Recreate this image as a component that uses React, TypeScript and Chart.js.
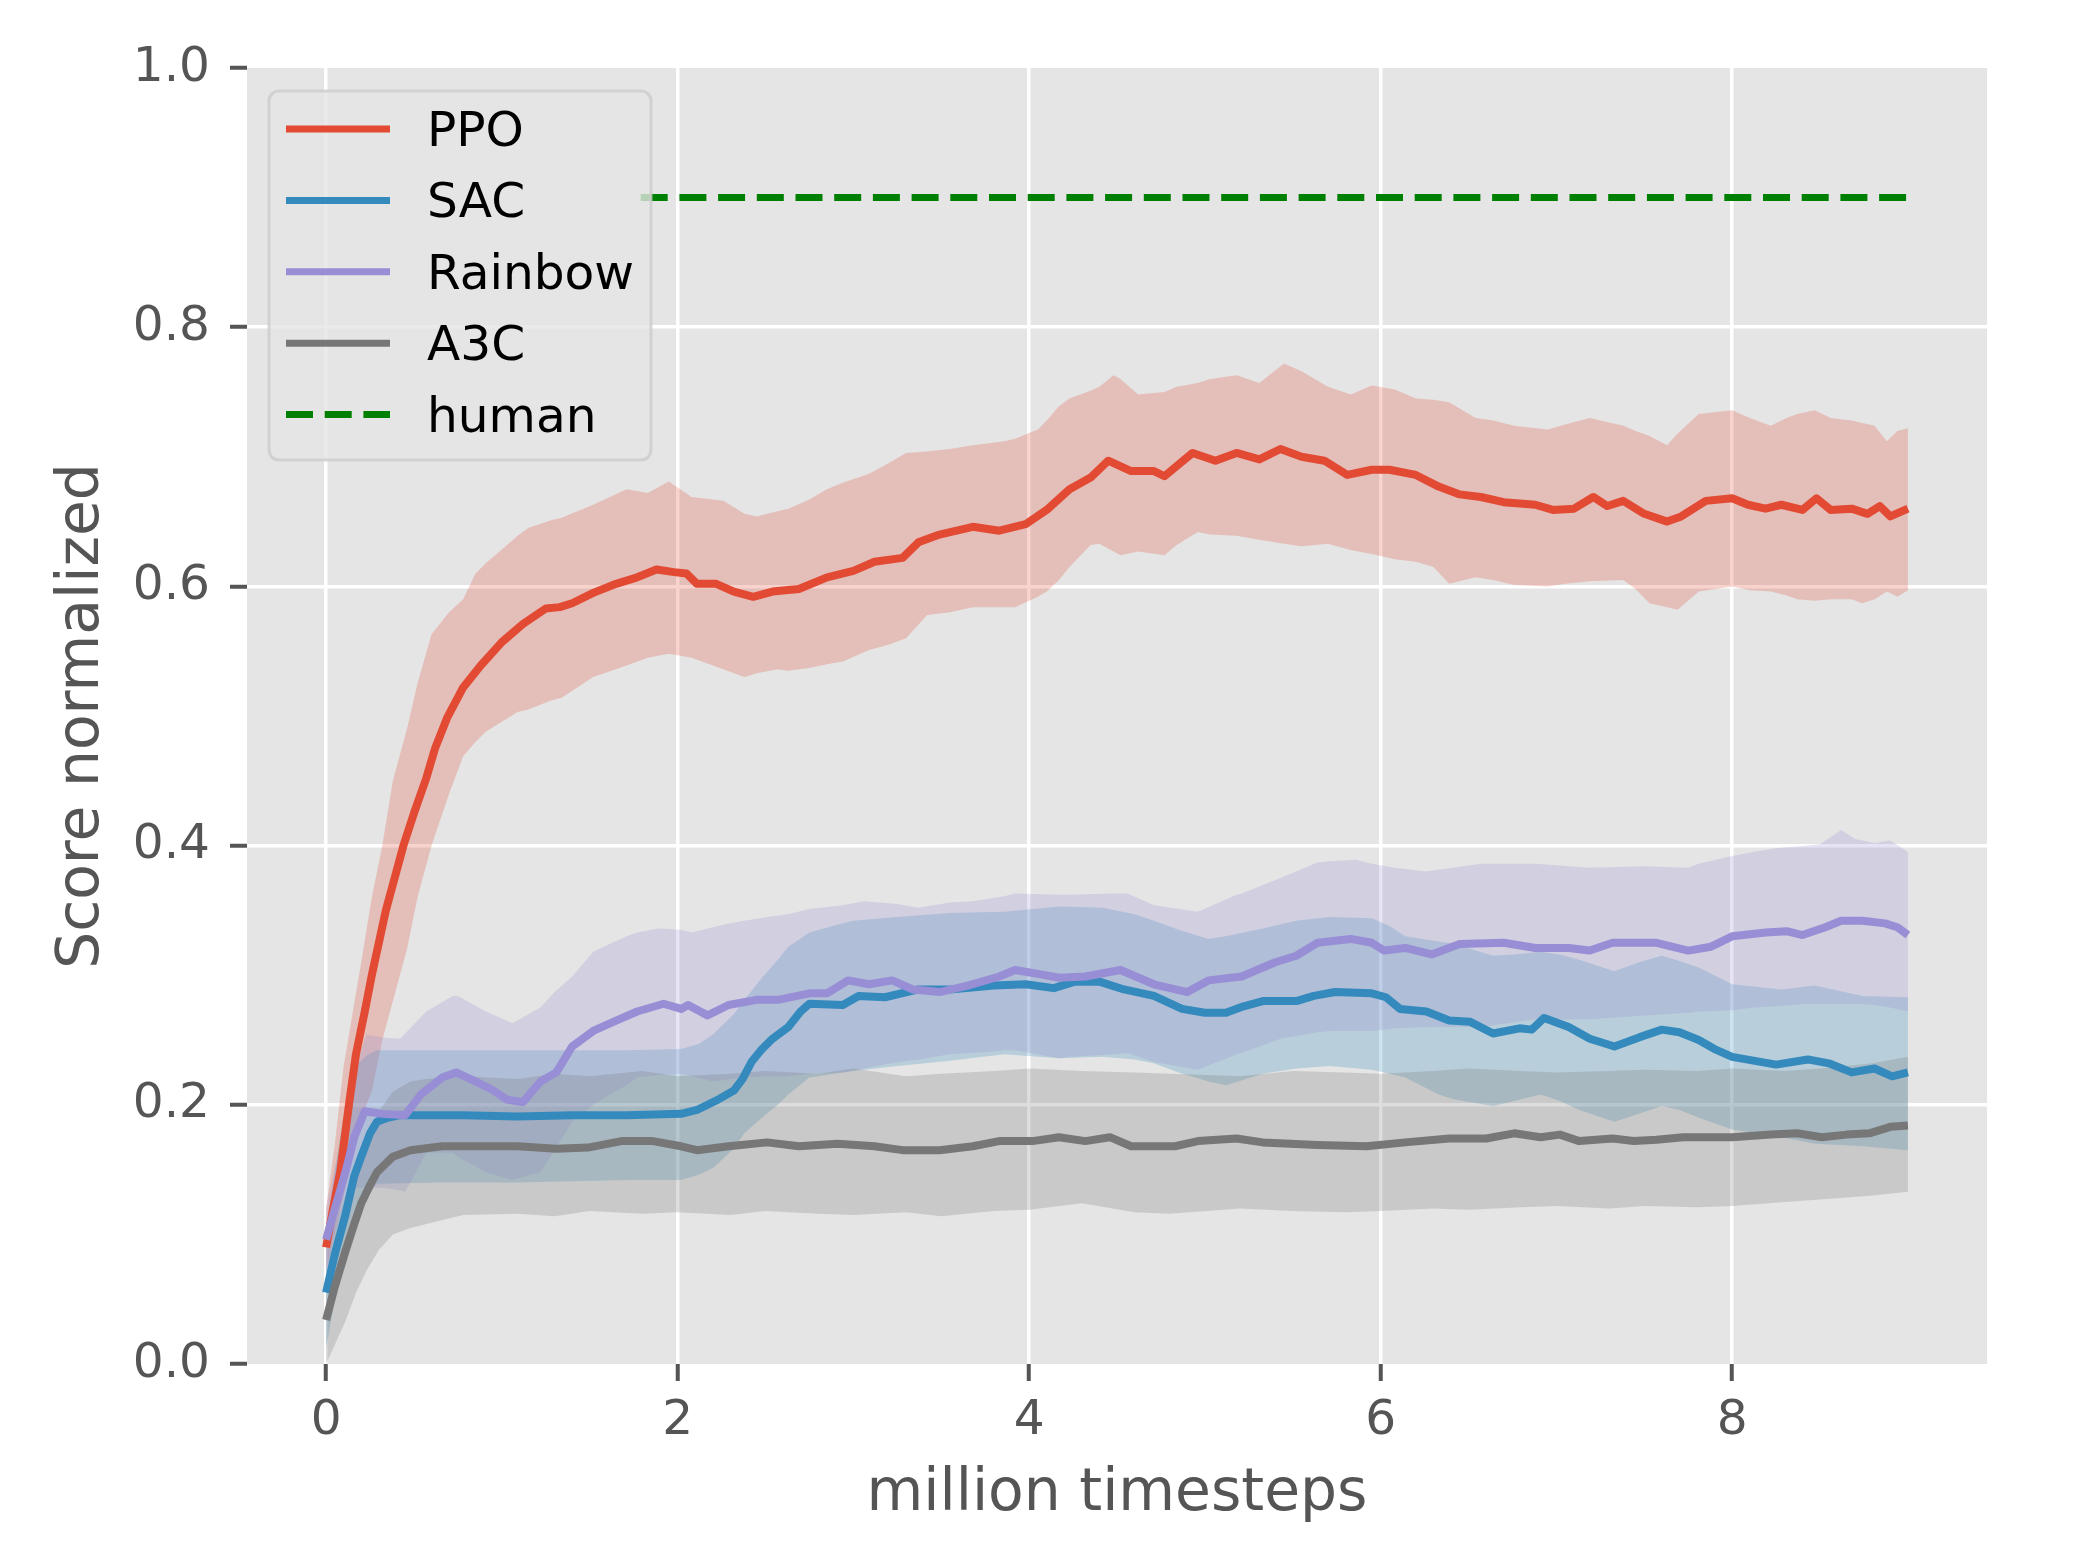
import { useEffect, useRef } from 'react'
import Chart from 'chart.js/auto'

// axis ticks and labels
const xTicks = [0, 2, 4, 6, 8]
const yTicks = [0, 0.2, 0.4, 0.6, 0.8, 1.0]
const seriesNames = ['PPO', 'SAC', 'Rainbow', 'A3C']
const humanLabel = 'human'
const humanLevel = 0.9
const humanStart = 1.79
const humanEnd = 9

// [million timesteps, mean score]
const ppoMean: [number, number][] = [
  [0, 0.09], [0.04, 0.12], [0.08, 0.148], [0.13, 0.2], [0.17, 0.239], [0.22, 0.272], [0.26, 0.3],
  [0.3, 0.325], [0.34, 0.35], [0.38, 0.37], [0.44, 0.4], [0.5, 0.425], [0.57, 0.452], [0.62, 0.475],
  [0.69, 0.499], [0.78, 0.522], [0.88, 0.539], [1.0, 0.557], [1.12, 0.571], [1.25, 0.583], [1.33, 0.584],
  [1.4, 0.587], [1.52, 0.595], [1.65, 0.602], [1.77, 0.607], [1.88, 0.613], [1.98, 0.611], [2.05, 0.61],
  [2.11, 0.602], [2.22, 0.602], [2.32, 0.596], [2.43, 0.592], [2.54, 0.596], [2.69, 0.598], [2.85, 0.607],
  [3.0, 0.612], [3.12, 0.619], [3.28, 0.622], [3.37, 0.634], [3.49, 0.64], [3.68, 0.646], [3.83, 0.643],
  [3.98, 0.648], [4.1, 0.659], [4.23, 0.675], [4.35, 0.684], [4.45, 0.697], [4.58, 0.689], [4.71, 0.689],
  [4.77, 0.685], [4.93, 0.703], [5.06, 0.697], [5.18, 0.703], [5.31, 0.698], [5.43, 0.706], [5.55, 0.7],
  [5.68, 0.697], [5.81, 0.686], [5.95, 0.69], [6.05, 0.69], [6.2, 0.686], [6.33, 0.677], [6.45, 0.671],
  [6.57, 0.669], [6.7, 0.665], [6.88, 0.663], [6.98, 0.659], [7.1, 0.66], [7.21, 0.669], [7.29, 0.662],
  [7.38, 0.666], [7.5, 0.656], [7.63, 0.65], [7.71, 0.654], [7.85, 0.666], [8.0, 0.668], [8.09, 0.663],
  [8.19, 0.66], [8.28, 0.663], [8.4, 0.659], [8.48, 0.668], [8.56, 0.659], [8.68, 0.66], [8.77, 0.656],
  [8.84, 0.662], [8.9, 0.654], [9.0, 0.66],
]

// [million timesteps, lower, upper]
const ppoBand: [number, number, number][] = [
  [0, 0.07, 0.12], [0.05, 0.1, 0.17], [0.1, 0.13, 0.23], [0.15, 0.16, 0.27], [0.2, 0.19, 0.31],
  [0.26, 0.21, 0.36], [0.32, 0.25, 0.4], [0.38, 0.28, 0.45], [0.46, 0.32, 0.49], [0.52, 0.36, 0.525],
  [0.6, 0.4, 0.563], [0.7, 0.44, 0.58], [0.78, 0.469, 0.59], [0.85, 0.48, 0.61], [0.91, 0.488, 0.618],
  [0.97, 0.493, 0.625], [1.09, 0.503, 0.639], [1.15, 0.505, 0.645], [1.28, 0.512, 0.651], [1.34, 0.514, 0.653],
  [1.52, 0.53, 0.663], [1.71, 0.539, 0.675], [1.83, 0.545, 0.672], [1.95, 0.548, 0.681], [2.08, 0.545, 0.669],
  [2.26, 0.536, 0.666], [2.38, 0.53, 0.656], [2.45, 0.533, 0.654], [2.57, 0.536, 0.658], [2.63, 0.535, 0.66],
  [2.75, 0.537, 0.667], [2.85, 0.54, 0.675], [2.94, 0.542, 0.68], [3.09, 0.551, 0.687], [3.2, 0.555, 0.695],
  [3.3, 0.56, 0.703], [3.42, 0.578, 0.704], [3.55, 0.58, 0.706], [3.68, 0.584, 0.709], [3.86, 0.584, 0.712],
  [3.92, 0.584, 0.714], [4.05, 0.592, 0.721], [4.1, 0.596, 0.728], [4.17, 0.605, 0.739], [4.23, 0.615, 0.745],
  [4.35, 0.632, 0.751], [4.4, 0.633, 0.754], [4.48, 0.627, 0.763], [4.52, 0.624, 0.76], [4.62, 0.627, 0.748],
  [4.77, 0.624, 0.75], [4.84, 0.632, 0.754], [4.96, 0.642, 0.757], [5.03, 0.64, 0.76], [5.18, 0.639, 0.763],
  [5.31, 0.636, 0.757], [5.45, 0.633, 0.772], [5.55, 0.631, 0.766], [5.7, 0.633, 0.754], [5.83, 0.628, 0.748],
  [5.95, 0.625, 0.755], [6.08, 0.621, 0.752], [6.2, 0.619, 0.745], [6.3, 0.615, 0.744], [6.39, 0.602, 0.742],
  [6.54, 0.607, 0.73], [6.64, 0.605, 0.728], [6.76, 0.601, 0.724], [6.95, 0.6, 0.721], [7.05, 0.602, 0.725],
  [7.19, 0.604, 0.73], [7.38, 0.605, 0.724], [7.45, 0.598, 0.72], [7.53, 0.587, 0.716], [7.63, 0.584, 0.709],
  [7.69, 0.582, 0.718], [7.81, 0.596, 0.733], [8.0, 0.6, 0.736], [8.1, 0.597, 0.73], [8.22, 0.596, 0.724],
  [8.31, 0.593, 0.73], [8.37, 0.59, 0.733], [8.47, 0.589, 0.736], [8.56, 0.59, 0.73], [8.68, 0.59, 0.728],
  [8.74, 0.587, 0.726], [8.81, 0.59, 0.724], [8.88, 0.596, 0.712], [8.94, 0.592, 0.72], [9.0, 0.597, 0.722],
]

const sacMean: [number, number][] = [
  [0, 0.055], [0.05, 0.085], [0.11, 0.115], [0.16, 0.145], [0.2, 0.16], [0.25, 0.178], [0.29, 0.187],
  [0.35, 0.19], [0.42, 0.192], [0.78, 0.192], [1.09, 0.191], [1.4, 0.192], [1.71, 0.192], [2.02, 0.193],
  [2.11, 0.196], [2.23, 0.204], [2.32, 0.211], [2.37, 0.22], [2.42, 0.233], [2.48, 0.243], [2.54, 0.251],
  [2.63, 0.26], [2.7, 0.272], [2.75, 0.278], [2.94, 0.277], [3.03, 0.284], [3.18, 0.283], [3.37, 0.289],
  [3.55, 0.289], [3.8, 0.292], [3.98, 0.293], [4.14, 0.29], [4.26, 0.295], [4.4, 0.295], [4.54, 0.289],
  [4.71, 0.284], [4.87, 0.274], [5.0, 0.271], [5.12, 0.271], [5.22, 0.276], [5.33, 0.28], [5.52, 0.28],
  [5.62, 0.284], [5.74, 0.287], [5.95, 0.286], [6.03, 0.283], [6.11, 0.274], [6.26, 0.272], [6.39, 0.265],
  [6.51, 0.264], [6.64, 0.255], [6.79, 0.259], [6.86, 0.258], [6.93, 0.267], [7.07, 0.26], [7.19, 0.251],
  [7.33, 0.245], [7.47, 0.252], [7.6, 0.258], [7.7, 0.256], [7.81, 0.25], [7.9, 0.243], [8.0, 0.237],
  [8.25, 0.231], [8.43, 0.235], [8.55, 0.232], [8.68, 0.225], [8.81, 0.228], [8.91, 0.222], [9.0, 0.225],
]

const sacBand: [number, number, number][] = [
  [0, 0.012, 0.1], [0.05, 0.05, 0.15], [0.11, 0.087, 0.2], [0.17, 0.115, 0.23], [0.23, 0.13, 0.238],
  [0.29, 0.139, 0.242], [0.63, 0.14, 0.242], [1.09, 0.14, 0.242], [1.71, 0.142, 0.242], [2.02, 0.142, 0.243],
  [2.12, 0.146, 0.247], [2.2, 0.151, 0.254], [2.32, 0.166, 0.27], [2.38, 0.178, 0.281], [2.48, 0.19, 0.298],
  [2.57, 0.2, 0.312], [2.63, 0.208, 0.322], [2.75, 0.221, 0.333], [2.94, 0.225, 0.34], [3.0, 0.226, 0.342],
  [3.25, 0.23, 0.345], [3.55, 0.234, 0.348], [3.86, 0.239, 0.349], [4.17, 0.236, 0.353], [4.42, 0.237, 0.352],
  [4.6, 0.235, 0.347], [4.71, 0.232, 0.342], [4.85, 0.225, 0.335], [5.02, 0.218, 0.328], [5.12, 0.215, 0.33],
  [5.33, 0.224, 0.336], [5.52, 0.228, 0.342], [5.71, 0.23, 0.345], [5.95, 0.227, 0.344], [6.05, 0.224, 0.338],
  [6.14, 0.221, 0.33], [6.33, 0.208, 0.326], [6.42, 0.204, 0.324], [6.64, 0.199, 0.315], [6.76, 0.203, 0.316],
  [6.91, 0.208, 0.318], [7.02, 0.203, 0.316], [7.13, 0.196, 0.312], [7.33, 0.187, 0.303], [7.47, 0.193, 0.31],
  [7.6, 0.199, 0.315], [7.7, 0.196, 0.311], [7.81, 0.19, 0.306], [8.0, 0.181, 0.293], [8.28, 0.175, 0.289],
  [8.47, 0.17, 0.292], [8.74, 0.168, 0.284], [9.0, 0.165, 0.283],
]

const rainbowMean: [number, number][] = [
  [0, 0.096], [0.05, 0.12], [0.11, 0.148], [0.16, 0.175], [0.22, 0.195], [0.32, 0.193], [0.45, 0.192],
  [0.54, 0.208], [0.66, 0.221], [0.74, 0.225], [0.85, 0.218], [0.94, 0.212], [1.03, 0.204], [1.12, 0.202],
  [1.22, 0.218], [1.31, 0.225], [1.4, 0.245], [1.52, 0.257], [1.65, 0.265], [1.77, 0.272], [1.92, 0.278],
  [2.02, 0.274], [2.06, 0.277], [2.17, 0.269], [2.29, 0.277], [2.45, 0.281], [2.57, 0.281], [2.75, 0.286],
  [2.85, 0.286], [2.97, 0.296], [3.09, 0.293], [3.22, 0.296], [3.34, 0.289], [3.49, 0.287], [3.65, 0.292],
  [3.83, 0.299], [3.92, 0.304], [4.05, 0.301], [4.17, 0.298], [4.32, 0.299], [4.52, 0.304], [4.71, 0.293],
  [4.9, 0.287], [5.02, 0.296], [5.21, 0.299], [5.4, 0.31], [5.52, 0.315], [5.64, 0.325], [5.83, 0.328],
  [5.95, 0.325], [6.02, 0.319], [6.14, 0.321], [6.29, 0.316], [6.45, 0.324], [6.7, 0.325], [6.88, 0.321],
  [7.07, 0.321], [7.19, 0.319], [7.32, 0.325], [7.57, 0.325], [7.75, 0.319], [7.88, 0.322], [8.0, 0.33],
  [8.19, 0.333], [8.31, 0.334], [8.4, 0.331], [8.53, 0.337], [8.62, 0.342], [8.74, 0.342], [8.87, 0.34],
  [8.94, 0.337], [9.0, 0.331],
]

const rainbowBand: [number, number, number][] = [
  [0, 0.07, 0.12], [0.05, 0.1, 0.15], [0.11, 0.125, 0.178], [0.17, 0.136, 0.23], [0.23, 0.136, 0.254],
  [0.32, 0.136, 0.252], [0.42, 0.134, 0.251], [0.45, 0.133, 0.255], [0.52, 0.15, 0.265], [0.57, 0.163, 0.272],
  [0.72, 0.163, 0.284], [0.75, 0.16, 0.284], [0.91, 0.148, 0.272], [1.06, 0.142, 0.263], [1.22, 0.148, 0.275],
  [1.3, 0.165, 0.287], [1.4, 0.187, 0.299], [1.52, 0.2, 0.318], [1.58, 0.205, 0.322], [1.71, 0.215, 0.33],
  [1.77, 0.221, 0.333], [1.89, 0.223, 0.336], [2.02, 0.224, 0.335], [2.08, 0.222, 0.333], [2.2, 0.218, 0.337],
  [2.26, 0.219, 0.339], [2.38, 0.221, 0.342], [2.51, 0.222, 0.345], [2.63, 0.222, 0.347], [2.75, 0.224, 0.351],
  [2.94, 0.225, 0.354], [3.06, 0.228, 0.357], [3.25, 0.233, 0.355], [3.37, 0.235, 0.352], [3.55, 0.239, 0.356],
  [3.68, 0.24, 0.357], [3.86, 0.242, 0.361], [3.92, 0.242, 0.363], [4.17, 0.236, 0.362], [4.23, 0.237, 0.362],
  [4.48, 0.239, 0.363], [4.56, 0.24, 0.363], [4.71, 0.233, 0.354], [4.96, 0.227, 0.349], [5.18, 0.239, 0.362],
  [5.21, 0.24, 0.363], [5.43, 0.251, 0.375], [5.64, 0.256, 0.387], [5.71, 0.257, 0.388], [5.86, 0.257, 0.389],
  [5.95, 0.257, 0.386], [6.08, 0.259, 0.383], [6.26, 0.26, 0.38], [6.57, 0.26, 0.386], [6.88, 0.266, 0.386],
  [7.19, 0.266, 0.383], [7.5, 0.269, 0.384], [7.75, 0.271, 0.383], [7.81, 0.272, 0.386], [8.0, 0.273, 0.392],
  [8.12, 0.275, 0.395], [8.25, 0.276, 0.398], [8.43, 0.278, 0.4], [8.5, 0.278, 0.401], [8.62, 0.278, 0.412],
  [8.7, 0.278, 0.405], [8.81, 0.277, 0.402], [8.9, 0.275, 0.404], [9.0, 0.272, 0.395],
]

const a3cMean: [number, number][] = [
  [0, 0.034], [0.05, 0.06], [0.11, 0.087], [0.16, 0.108], [0.2, 0.124], [0.25, 0.138], [0.29, 0.148],
  [0.38, 0.16], [0.48, 0.165], [0.66, 0.168], [0.88, 0.168], [1.09, 0.168], [1.31, 0.166], [1.49, 0.167],
  [1.68, 0.172], [1.86, 0.172], [2.02, 0.168], [2.11, 0.165], [2.29, 0.168], [2.51, 0.171], [2.69, 0.168],
  [2.91, 0.17], [3.12, 0.168], [3.28, 0.165], [3.49, 0.165], [3.68, 0.168], [3.83, 0.172], [4.02, 0.172],
  [4.17, 0.175], [4.32, 0.172], [4.46, 0.175], [4.58, 0.168], [4.83, 0.168], [4.96, 0.172], [5.18, 0.174],
  [5.33, 0.171], [5.64, 0.169], [5.92, 0.168], [6.14, 0.171], [6.39, 0.174], [6.6, 0.174], [6.76, 0.178],
  [6.91, 0.175], [7.02, 0.177], [7.13, 0.172], [7.32, 0.174], [7.44, 0.172], [7.57, 0.173], [7.72, 0.175],
  [8.0, 0.175], [8.22, 0.177], [8.37, 0.178], [8.51, 0.175], [8.65, 0.177], [8.78, 0.178], [8.9, 0.183],
  [9.0, 0.184],
]

const a3cBand: [number, number, number][] = [
  [0, 0.0, 0.065], [0.05, 0.015, 0.1], [0.11, 0.033, 0.13], [0.17, 0.055, 0.155], [0.23, 0.072, 0.175],
  [0.3, 0.088, 0.195], [0.38, 0.1, 0.21], [0.48, 0.105, 0.218], [0.57, 0.108, 0.22], [0.78, 0.115, 0.222],
  [1.09, 0.116, 0.22], [1.3, 0.114, 0.224], [1.5, 0.118, 0.222], [1.8, 0.116, 0.226], [2.0, 0.117, 0.222],
  [2.3, 0.115, 0.224], [2.5, 0.118, 0.226], [2.8, 0.116, 0.224], [3.0, 0.115, 0.228], [3.3, 0.117, 0.222],
  [3.5, 0.114, 0.224], [3.8, 0.118, 0.226], [4.0, 0.119, 0.228], [4.3, 0.124, 0.226], [4.6, 0.117, 0.225],
  [4.8, 0.116, 0.224], [5.2, 0.12, 0.222], [5.5, 0.118, 0.226], [5.8, 0.117, 0.225], [6.0, 0.118, 0.224],
  [6.3, 0.12, 0.226], [6.5, 0.119, 0.228], [6.8, 0.121, 0.226], [7.0, 0.122, 0.225], [7.3, 0.12, 0.226],
  [7.5, 0.122, 0.227], [7.8, 0.121, 0.226], [8.0, 0.122, 0.228], [8.3, 0.125, 0.226], [8.5, 0.127, 0.228],
  [8.8, 0.13, 0.232], [9.0, 0.133, 0.237],
]

const FONT = '"DejaVu Sans", sans-serif'
const colors = ['#E24A33', '#348ABD', '#988ED5', '#777777']
const humanColor = '#008000'
const MEAN_W = 8
const LINE_W = 7
const DASH = [27, 11.7]

function withAlpha(hex: string, a: number) {
  const n = parseInt(hex.slice(1), 16)
  return `rgba(${(n >> 16) & 255}, ${(n >> 8) & 255}, ${n & 255}, ${a})`
}

// grey panel behind the plot, like the ggplot style
const panelBackground = {
  id: 'panelBackground',
  beforeDraw(chart: any) {
    const { ctx, chartArea } = chart
    ctx.save()
    ctx.fillStyle = '#E5E5E5'
    ctx.fillRect(chartArea.left, chartArea.top, chartArea.width, chartArea.height)
    ctx.restore()
  },
}

// matplotlib-like legend box in the upper left corner
const boxLegend = {
  id: 'boxLegend',
  afterDraw(chart: any) {
    const { ctx, chartArea } = chart
    const left = chartArea.left + 22
    const top = chartArea.top + 23
    const w = 382
    const h = 369
    ctx.save()
    ctx.beginPath()
    ctx.roundRect(left, top, w, h, 10)
    ctx.fillStyle = 'rgba(229, 229, 229, 0.8)'
    ctx.fill()
    ctx.lineWidth = 3
    ctx.strokeStyle = 'rgba(204, 204, 204, 0.8)'
    ctx.stroke()

    const items = [
      ...seriesNames.map((name, i) => ({ name, color: colors[i], dashed: false })),
      { name: humanLabel, color: humanColor, dashed: true },
    ]
    items.forEach((item, i) => {
      const cy = top + 38 + i * 71.4
      ctx.beginPath()
      ctx.setLineDash(item.dashed ? DASH : [])
      ctx.lineDashOffset = 0
      ctx.strokeStyle = item.color
      ctx.lineWidth = LINE_W
      ctx.lineCap = 'butt'
      ctx.moveTo(left + 17, cy)
      ctx.lineTo(left + 121, cy)
      ctx.stroke()
      ctx.setLineDash([])
      ctx.fillStyle = '#000000'
      ctx.font = `48.6px ${FONT}`
      ctx.textAlign = 'left'
      ctx.textBaseline = 'alphabetic'
      ctx.fillText(item.name, left + 158, cy + 17)
    })
    ctx.restore()
  },
}

export default function App() {
  const canvasRef = useRef<HTMLCanvasElement | null>(null)

  useEffect(() => {
    if (!canvasRef.current) return
    const ctx = canvasRef.current.getContext('2d')
    if (!ctx) return

    const means = [ppoMean, sacMean, rainbowMean, a3cMean]
    const bands = [ppoBand, sacBand, rainbowBand, a3cBand]

    const datasets: any[] = []
    means.forEach((m, i) => {
      datasets.push({
        label: seriesNames[i],
        data: m.map(([x, y]) => ({ x, y })),
        borderColor: colors[i],
        borderWidth: MEAN_W,
        borderJoinStyle: 'round',
        pointRadius: 0,
        fill: false,
        tension: 0,
        order: 4 - i,
      })
    })
    datasets.push({
      label: humanLabel,
      data: [{ x: humanStart, y: humanLevel }, { x: humanEnd, y: humanLevel }],
      borderColor: humanColor,
      borderWidth: LINE_W,
      borderDash: DASH,
      borderCapStyle: 'butt',
      pointRadius: 0,
      fill: false,
      order: 0,
    })
    bands.forEach((b, i) => {
      datasets.push({
        label: seriesNames[i] + ' upper',
        data: b.map(([x, , hi]) => ({ x, y: hi })),
        borderColor: 'rgba(0,0,0,0)',
        borderWidth: 0,
        pointRadius: 0,
        backgroundColor: withAlpha(colors[i], 0.25),
        fill: '+1',
        order: 14 - i,
      })
      datasets.push({
        label: seriesNames[i] + ' lower',
        data: b.map(([x, lo]) => ({ x, y: lo })),
        borderColor: 'rgba(0,0,0,0)',
        borderWidth: 0,
        pointRadius: 0,
        fill: false,
        order: 14 - i,
      })
    })

    const chart = new Chart(ctx, {
      type: 'line',
      data: { datasets },
      options: {
        animation: false,
        responsive: true,
        maintainAspectRatio: false,
        devicePixelRatio: 1,
        events: [],
        layout: { padding: { top: 68, right: 86, bottom: 0, left: 0 } },
        plugins: {
          legend: { display: false },
          tooltip: { enabled: false },
          filler: { drawTime: 'beforeDatasetsDraw' },
        },
        scales: {
          x: {
            type: 'linear',
            min: -0.45,
            max: 9.45,
            afterBuildTicks: (s: any) => { s.ticks = xTicks.map(v => ({ value: v })) },
            afterFit: (s: any) => { s.height = 190 },
            ticks: {
              autoSkip: false,
              maxRotation: 0,
              padding: 11,
              color: '#555555',
              font: { family: FONT, size: 48.6 },
              callback: (v: any) => String(v),
            },
            grid: { color: '#ffffff', lineWidth: 3.5, tickColor: '#555555', tickLength: 17, tickWidth: 4 },
            border: { display: false },
            title: {
              display: true,
              text: 'million timesteps',
              color: '#555555',
              font: { family: FONT, size: 58.3, lineHeight: 1.2 },
              padding: { top: 0, bottom: 24 },
            },
          },
          y: {
            type: 'linear',
            min: 0,
            max: 1,
            afterBuildTicks: (s: any) => { s.ticks = yTicks.map(v => ({ value: v })) },
            afterFit: (s: any) => { s.width = 247 },
            ticks: {
              padding: 20,
              color: '#555555',
              font: { family: FONT, size: 48.6 },
              callback: (v: any) => Number(v).toFixed(1),
            },
            grid: {
              color: (c: any) => (c.tick && (c.tick.value === 0 || c.tick.value === 1) ? 'rgba(0,0,0,0)' : '#ffffff'),
              lineWidth: 3.5,
              tickColor: '#555555',
              tickLength: 17,
              tickWidth: 4,
            },
            border: { display: false },
            title: {
              display: true,
              text: 'Score normalized',
              color: '#555555',
              font: { family: FONT, size: 58.3, lineHeight: 1.2 },
              padding: { top: 48, bottom: 0 },
            },
          },
        },
      },
      plugins: [panelBackground, boxLegend],
    })

    return () => {
      chart.destroy()
    }
  }, [])

  return (
    <div style={{ position: 'absolute', left: 0, top: 0, width: 2073, height: 1554, background: '#ffffff' }}>
      <canvas ref={canvasRef} style={{ width: '100%', height: '100%' }} />
    </div>
  )
}
